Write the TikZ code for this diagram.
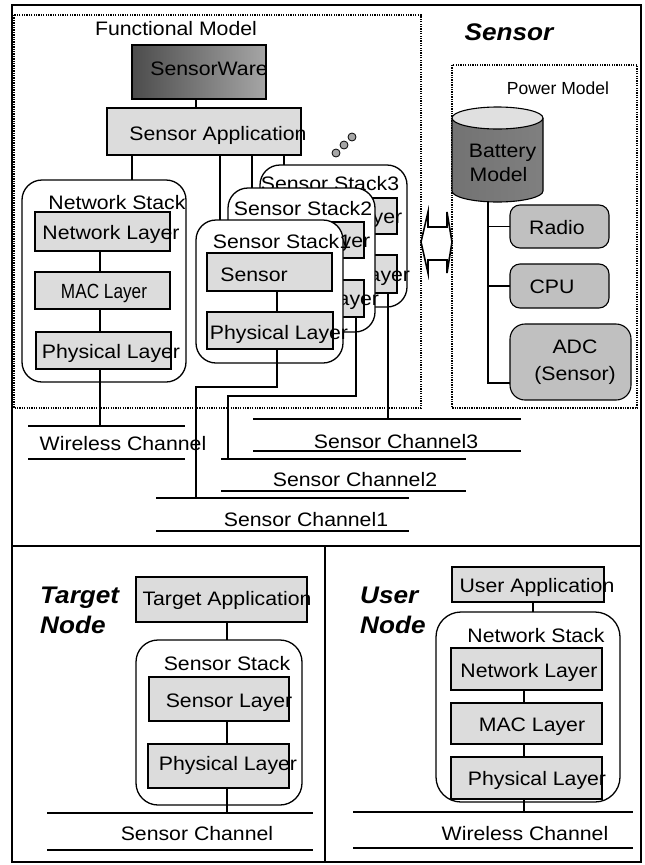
\documentclass[tikz,border=0pt]{standalone}
\usepackage{fontspec}
\setmainfont[FakeStretch=1.09]{Liberation Sans}
\newfontfamily\narrowfont[FakeStretch=0.84]{Liberation Sans}
\newfontfamily\plainfont{Liberation Sans}
\usetikzlibrary{calc}
\definecolor{boxgray}{HTML}{DCDCDC}
\definecolor{pgray}{HTML}{C0C0C0}
\begin{document}
\begin{tikzpicture}[x=1pt,y=-1pt,
  font=\fontsize{19.5}{23}\selectfont,
  tx/.style={inner sep=0pt, text height=14pt, text depth=0pt},
  ttl/.style={inner sep=0pt, text height=17pt, text depth=0pt, font=\fontsize{24}{28}\bfseries\itshape},
  lbox/.style={draw, line width=1.1pt, fill=boxgray, inner sep=0pt, outer sep=0pt},
  pbox/.style={draw, line width=1.1pt, fill=pgray, rounded corners=10pt, inner sep=0pt, outer sep=0pt},
  stackbox/.style={draw, line width=1.3pt, fill=white, rounded corners=20pt, inner sep=0pt, outer sep=0pt},
  chan/.style={inner sep=0pt, outer sep=0pt},
  chl/.style={line width=1.2pt},
  conn/.style={line width=1.1pt},
  frame/.style={line width=1.3pt},
  dotbox/.style={line width=1.4pt, dash pattern=on 1.3pt off 1.1pt}]
\useasboundingbox (0,0) rectangle (645,865);
\fill[white] (0,0) rectangle (645,865);

% frames
\draw[frame] (12,5) rectangle (641,546);
\draw[frame] (12,546) rectangle (325,862);
\draw[frame] (325,546) rectangle (641,862);
\draw[line width=2.6pt] (12,546) -- (641,546);
\draw[dotbox] (14,15) rectangle (421,408);
\draw[dotbox] (452,65) rectangle (637,408);

% titles
\node[tx] (tfm) at (176,28) {Functional Model};
\node[ttl] (tsen) at (509,32) {Sensor};
\node[tx, font=\plainfont\fontsize{17.5}{20}\selectfont, text height=12.5pt] (tpm) at (558,88) {Power Model};

% SensorWare and application
\node[draw, line width=1.1pt, left color=black!70, right color=black!35, minimum width=134pt, minimum height=54pt, inner sep=0pt] (sw) at (199,72) {};
\node[tx] (swt) at (209,68) {SensorWare};
\node[lbox, minimum width=194pt, minimum height=47pt] (sa) at (204,131.5) {};
\node[tx] (sat) at (218,133) {Sensor Application};
\draw[conn] (sw.south -| 196,0) -- (sa.north -| 196,0);

% Network stack (sensor)
\node[stackbox, minimum width=164pt, minimum height=202pt] (nsk) at (104,281) {};
\node[tx] (nskt) at (117,202) {Network Stack};
\node[lbox, minimum width=135pt, minimum height=39pt] (nl) at (102.5,231.5) {};
\node[tx] (nlt) at (111,232) {Network Layer};
\node[lbox, minimum width=135pt, minimum height=37pt] (mac) at (102.5,290.5) {};
\node[tx, font=\narrowfont\fontsize{20.5}{24}\selectfont] (mact) at (104,291) {MAC Layer};
\node[lbox, minimum width=135pt, minimum height=37pt] (pl) at (103.5,350.5) {};
\node[tx] (plt) at (111,351) {Physical Layer};
\draw[conn] (nl.south -| 100,0) -- (mac.north -| 100,0);
\draw[conn] (mac.south -| 100,0) -- (pl.north -| 100,0);

% Sensor Stack3
\node[stackbox, minimum width=147pt, minimum height=142pt] (s3) at (333.5,236) {};
\node[tx] (s3t) at (330,183) {Sensor Stack3};
\node[lbox, minimum width=126pt, minimum height=36pt] (s3a) at (334,216) {};
\node[tx] (s3at) at (339,216) {Sensor Layer};
\node[lbox, minimum width=126pt, minimum height=38pt] (s3b) at (334,274) {};
\node[tx] (s3bt) at (341,274) {Physical Layer};
\draw[conn] (s3a.south -| 334,0) -- (s3b.north -| 334,0);

% Sensor Stack2
\node[stackbox, minimum width=147pt, minimum height=144pt] (s2) at (301.5,260) {};
\node[tx] (s2t) at (303,208) {Sensor Stack2};
\node[lbox, minimum width=125pt, minimum height=36pt] (s2a) at (301.5,240) {};
\node[tx] (s2at) at (307,240) {Sensor Layer};
\node[lbox, minimum width=125pt, minimum height=37pt] (s2b) at (301.5,298.5) {};
\node[tx] (s2bt) at (310,298.5) {Physical Layer};
\draw[conn] (s2a.south -| 309,0) -- (s2b.north -| 309,0);

% Sensor Stack1
\node[stackbox, minimum width=147pt, minimum height=143pt] (s1) at (269.5,291.5) {};
\node[lbox, minimum width=125pt, minimum height=38pt] (s1a) at (269.5,272) {};
\node[tx] (s1at) at (254,274) {Sensor};
\node[lbox, minimum width=126pt, minimum height=37pt] (s1b) at (270,330.5) {};
\node[tx] (s1bt) at (279,332) {Physical Layer};
\node[tx] (s1t) at (282,241) {Sensor Stack1};
\draw[conn] (s1a.south -| 277,0) -- (s1b.north -| 277,0);

% application to stacks
\draw[conn] (sa.south -| 132,0) -- (nsk.north -| 132,0);
\draw[conn] (sa.south -| 220,0) -- (s1.north -| 220,0);
\draw[conn] (sa.south -| 252,0) -- (s2.north -| 252,0);
\draw[conn] (sa.south -| 284,0) -- (s3.north -| 284,0);

% dots
\filldraw[fill=black!35, line width=0.8pt] (336,153) circle (4pt);
\filldraw[fill=black!35, line width=0.8pt] (344,145) circle (4pt);
\filldraw[fill=black!35, line width=0.8pt] (352,137) circle (4pt);

% double arrow
\draw[line width=1.6pt, fill=white, line join=miter] (421,242) -- (428,212) -- (428,227) -- (447,227) -- (447,212) -- (452,242) -- (447,273) -- (447,260) -- (428,260) -- (428,273) -- cycle;

% channels (sensor)
\node[chan, minimum width=157pt, minimum height=33pt] (wch) at (106.5,442.5) {};
\draw[chl] (wch.north west) -- (wch.north east) (wch.south west) -- (wch.south east);
\node[tx] (wcht) at (123,443) {Wireless Channel};
\node[chan, minimum width=268pt, minimum height=32pt] (ch3) at (387,435) {};
\draw[chl] (ch3.north west) -- (ch3.north east) (ch3.south west) -- (ch3.south east);
\node[tx] (ch3t) at (396,441) {Sensor Channel3};
\node[chan, minimum width=245pt, minimum height=32pt] (ch2) at (343.5,475) {};
\draw[chl] (ch2.north west) -- (ch2.north east) (ch2.south west) -- (ch2.south east);
\node[tx] (ch2t) at (355,479) {Sensor Channel2};
\node[chan, minimum width=253pt, minimum height=33pt] (ch1) at (282.5,514.5) {};
\draw[chl] (ch1.north west) -- (ch1.north east) (ch1.south west) -- (ch1.south east);
\node[tx] (ch1t) at (306,519) {Sensor Channel1};

\draw[conn] (pl.south -| 100,0) -- (wch.north -| 100,0);
\draw[conn] (s1b.south -| 277,0) -- (277,387) -- (196,387) -- (ch1.north -| 196,0);
\draw[conn] (s2b.south -| 356,0) -- (356,396) -- (228,396) -- (ch2.north -| 228,0);
\draw[conn] (s3b.south -| 388,0) -- (ch3.north -| 388,0);

% power model
\node[inner sep=0pt, minimum width=91pt, minimum height=95pt] (bat) at (497.5,154.5) {};
\shade[left color=black!55, middle color=black!12, right color=black!50]
  (452,118) -- (452,191) .. controls (452,197.08) and (472.37,202) .. (497.5,202)
  .. controls (522.63,202) and (543,197.08) .. (543,191) -- (543,118) -- cycle;
\draw[line width=1.1pt] (452,118) -- (452,191) .. controls (452,197.08) and (472.37,202) .. (497.5,202)
  .. controls (522.63,202) and (543,197.08) .. (543,191) -- (543,118);
\filldraw[fill=black!12, line width=1.1pt] (497.5,118) ellipse [x radius=45.5pt, y radius=11pt];
\node[tx] (batt1) at (502.5,150.5) {Battery};
\node[tx] (batt2) at (498.5,174) {Model};

\node[pbox, minimum width=99pt, minimum height=43pt] (radio) at (559.5,226.5) {};
\node[tx] (radiot) at (557,227) {Radio};
\node[pbox, minimum width=99pt, minimum height=44pt] (cpu) at (559.5,286) {};
\node[tx] (cput) at (552,286) {CPU};
\node[pbox, rounded corners=15pt, minimum width=121pt, minimum height=76pt] (adc) at (570.5,362) {};
\node[tx] (adct1) at (575,346) {ADC};
\node[tx] (adct2) at (575,373) {(Sensor)};
\coordinate (pvbot) at (488,383);
\draw[conn] (pvbot |- bat.south) -- (pvbot) -- (pvbot -| adc.west);
\draw[conn] (radio.west -| pvbot) -- (radio.west);
\draw[conn] (cpu.west -| pvbot) -- (cpu.west);

% Target node
\node[ttl, anchor=west] (tg1) at (40,595) {Target};
\node[ttl, anchor=west] (tg2) at (40,625) {Node};
\node[lbox, minimum width=171pt, minimum height=45pt] (ta) at (221.5,599.5) {};
\node[tx] (tat) at (227,598) {Target Application};
\node[stackbox, rounded corners=22pt, minimum width=166pt, minimum height=165pt] (ss) at (219,722.5) {};
\node[tx] (sst) at (227,663) {Sensor Stack};
\node[lbox, minimum width=140pt, minimum height=44pt] (sl) at (219,699) {};
\node[tx] (slt) at (229,700) {Sensor Layer};
\node[lbox, minimum width=141pt, minimum height=44pt] (tpl) at (218.5,766) {};
\node[tx] (tplt) at (228,763) {Physical Layer};
\node[chan, minimum width=266pt, minimum height=37pt] (sch) at (180,831.5) {};
\draw[chl] (sch.north west) -- (sch.north east) (sch.south west) -- (sch.south east);
\node[tx] (scht) at (197,833) {Sensor Channel};
\draw[conn] (ta.south -| 227,0) -- (ss.north -| 227,0);
\draw[conn] (sl.south -| 227,0) -- (tpl.north -| 227,0);
\draw[conn] (tpl.south -| 227,0) -- (sch.north -| 227,0);

% User node
\node[ttl, anchor=west] (us1) at (360,595) {User};
\node[ttl, anchor=west] (us2) at (360,625) {Node};
\node[lbox, minimum width=152pt, minimum height=35pt] (ua) at (528,584.5) {};
\node[tx] (uat) at (537,585) {User Application};
\node[stackbox, rounded corners=25pt, minimum width=184pt, minimum height=190pt] (nsk2) at (528,707) {};
\node[tx] (nsk2t) at (536,635) {Network Stack};
\node[lbox, minimum width=151pt, minimum height=42pt] (nl2) at (526.5,669) {};
\node[tx] (nl2t) at (529,670) {Network Layer};
\node[lbox, minimum width=151pt, minimum height=41pt] (mac2) at (526.5,723.5) {};
\node[tx] (mac2t) at (532,724) {MAC Layer};
\node[lbox, minimum width=151pt, minimum height=42pt] (pl2) at (526.5,778) {};
\node[tx] (pl2t) at (537,778) {Physical Layer};
\node[chan, minimum width=280pt, minimum height=36pt] (wch2) at (493,830) {};
\draw[chl] (wch2.north west) -- (wch2.north east) (wch2.south west) -- (wch2.south east);
\node[tx] (wch2t) at (525,833) {Wireless Channel};
\draw[conn] (ua.south -| 533,0) -- (nsk2.north -| 533,0);
\draw[conn] (nl2.south -| 524,0) -- (mac2.north -| 524,0);
\draw[conn] (mac2.south -| 524,0) -- (pl2.north -| 524,0);
\draw[conn] (pl2.south -| 524,0) -- (wch2.north -| 524,0);
\end{tikzpicture}
\end{document}
